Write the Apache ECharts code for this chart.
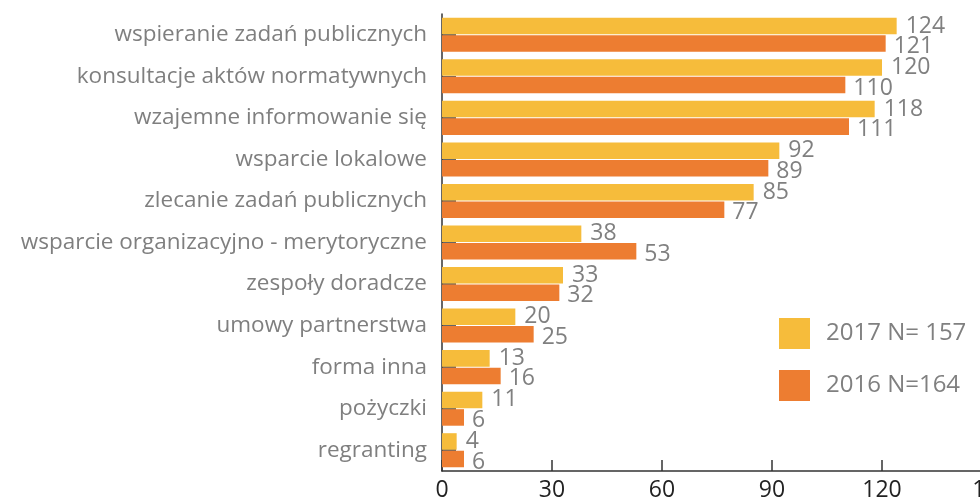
<!DOCTYPE html>
<html>
<head>
<meta charset="utf-8">
<script src="https://cdn.jsdelivr.net/npm/echarts@6/dist/echarts.min.js"></script>
<style>
  html, body { margin: 0; padding: 0; background: #fff; }
  #chart { width: 980px; height: 499px; }
</style>
</head>
<body>
<div id="chart"></div>
<script>
// categories, top to bottom
var categories = [
  'wspieranie zadań publicznych',
  'konsultacje aktów normatywnych',
  'wzajemne informowanie się',
  'wsparcie lokalowe',
  'zlecanie zadań publicznych',
  'wsparcie organizacyjno - merytoryczne',
  'zespoły doradcze',
  'umowy partnerstwa',
  'forma inna',
  'pożyczki',
  'regranting'
];
var values2017 = [124, 120, 118, 92, 85, 38, 33, 20, 13, 11, 4];
var values2016 = [121, 110, 111, 89, 77, 53, 32, 25, 16, 6, 6];
var name2017 = '2017 N= 157';
var name2016 = '2016 N=164';

var font = '"Open Sans", "Noto Sans", sans-serif';
var chart = echarts.init(document.getElementById('chart'), null, { renderer: 'canvas' });

chart.setOption({
  animation: false,
  textStyle: { fontFamily: font },
  grid: { left: 442, width: 550, top: 14, height: 457, containLabel: false, outerBoundsMode: 'none' },
  legend: {
    orient: 'vertical',
    left: 779,
    top: 318,
    padding: 0,
    itemWidth: 31,
    itemHeight: 31,
    itemGap: 21,
    icon: 'rect',
    textStyle: { color: '#808080', fontSize: 24, fontFamily: font, padding: [0, 0, 0, 11] },
    data: [name2017, name2016]
  },
  xAxis: {
    type: 'value',
    min: 0,
    max: 150,
    interval: 30,
    splitLine: { show: false },
    axisLine: { show: true, lineStyle: { color: '#333', width: 1.5 } },
    axisTick: { show: true, inside: true, length: 11, lineStyle: { color: '#333', width: 1.5 } },
    axisLabel: { color: '#222', fontSize: 23, margin: 8, fontFamily: font }
  },
  yAxis: {
    type: 'category',
    inverse: true,
    data: categories,
    axisLine: { show: true, lineStyle: { color: '#333', width: 1.5 } },
    axisTick: { show: true, inside: true, alignWithLabel: true, length: 14, lineStyle: { color: '#333', width: 1.5 } },
    axisLabel: { color: '#7f7f7f', fontSize: 22.5, margin: 15, fontFamily: font }
  },
  series: [
    {
      name: name2017,
      type: 'bar',
      data: values2017,
      itemStyle: { color: '#F6BC3B' },
      barGap: '6%',
      barCategoryGap: '18%',
      label: {
        show: true,
        position: 'right',
        distance: 9,
        color: '#808080',
        fontSize: 23,
        fontFamily: font
      }
    },
    {
      name: name2016,
      type: 'bar',
      data: values2016,
      itemStyle: { color: '#ED7D31' },
      barGap: '6%',
      barCategoryGap: '18%',
      label: {
        show: true,
        position: 'right',
        distance: 8,
        offset: [0, 3],
        color: '#808080',
        fontSize: 23,
        fontFamily: font
      }
    }
  ]
});
</script>
</body>
</html>
